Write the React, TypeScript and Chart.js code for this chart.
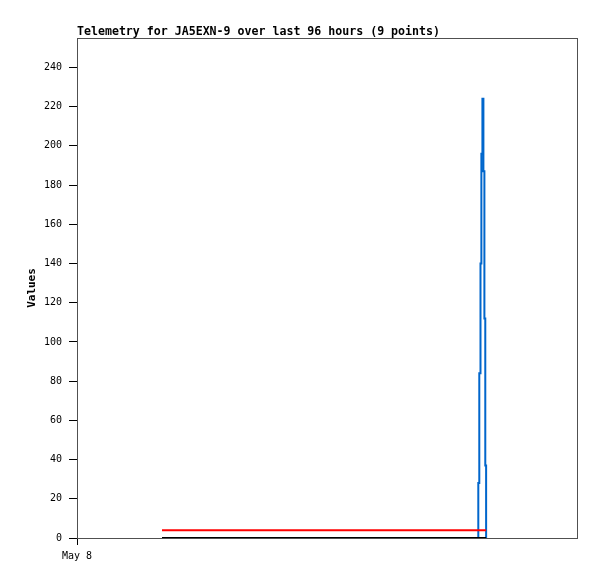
import React, { useEffect, useRef } from "react";
import { Chart, registerables } from "chart.js";

Chart.register(...registerables);

// Time of each sample, in hours since the start of the 96-hour window (May 8 00:00)
const hours = [16.32, 77.05, 77.24, 77.47, 77.64, 77.84, 78.03, 78.22, 78.39, 78.55];
const blueValues = [0, 28, 84, 140, 196, 224, 187, 112, 37, 0];
const redValues = [4, 4, 4, 4, 4, 4, 4, 4, 4, 4];
const blackValues = [0, 0, 0, 0, 0, 0, 0, 0, 0, 0];
const xTickValues = [0];
const xTickLabels = ["May 8"];
const yTickStep = 20;
const yMax = 255;
const xMax = 96;
const titleText = "Telemetry for JA5EXN-9 over last 96 hours (9 points)";

const MONO = "'DejaVu Sans Mono', monospace";

export default function App() {
  const ref = useRef<HTMLCanvasElement | null>(null);

  useEffect(() => {
    if (!ref.current) return;
    const pts = (vals: number[]) => hours.map((h, i) => ({ x: h, y: vals[i] }));

    const framePlugin = {
      id: "frameAndTitle",
      beforeDatasetsDraw(chart: any) {
        const { ctx, chartArea } = chart;
        ctx.save();
        ctx.strokeStyle = "#505050";
        ctx.lineWidth = 1;
        ctx.strokeRect(
          Math.round(chartArea.left) + 0.5,
          Math.round(chartArea.top) + 0.5,
          Math.round(chartArea.right - chartArea.left),
          Math.round(chartArea.bottom - chartArea.top)
        );
        ctx.restore();
      },
      afterDraw(chart: any) {
        const { ctx, chartArea } = chart;
        ctx.save();
        ctx.fillStyle = "#000";
        ctx.font = `bold 11.6px ${MONO}`;
        ctx.textBaseline = "alphabetic";
        ctx.textAlign = "left";
        ctx.fillText(titleText, chartArea.left, 35);
        ctx.restore();
      },
    };

    const chart = new Chart(ref.current, {
      type: "line",
      data: {
        datasets: [
          {
            label: "black",
            data: pts(blackValues),
            borderColor: "#000000",
            borderWidth: 2,
            pointRadius: 0,
            stepped: true,
            order: 0,
          },
          {
            label: "red",
            data: pts(redValues),
            borderColor: "#ff0000",
            borderWidth: 2,
            pointRadius: 0,
            stepped: true,
            order: 1,
          },
          {
            label: "blue",
            data: pts(blueValues),
            borderColor: "#0066cc",
            borderWidth: 2,
            pointRadius: 0,
            stepped: true,
            order: 2,
          },
        ],
      },
      options: {
        responsive: false,
        animation: false,
        events: [],
        layout: { padding: { left: 0, top: 38, right: 20, bottom: 0 } },
        plugins: {
          legend: { display: false },
          tooltip: { enabled: false },
          title: { display: false },
        },
        scales: {
          x: {
            type: "linear",
            min: 0,
            max: xMax,
            afterBuildTicks: (s: any) => {
              s.ticks = xTickValues.map((v) => ({ value: v }));
            },
            afterFit: (s: any) => {
              s.height = 41;
            },
            ticks: {
              autoSkip: false,
              maxRotation: 0,
              padding: 5,
              color: "#000",
              font: { family: MONO, size: 10 },
              callback: (v: any) => {
                const i = xTickValues.indexOf(Number(v));
                return i >= 0 ? xTickLabels[i] : "";
              },
            },
            grid: {
              display: true,
              drawOnChartArea: false,
              drawTicks: true,
              tickLength: 7,
              color: "#000",
            },
            border: { display: true, color: "#000", width: 1 },
          },
          y: {
            type: "linear",
            min: 0,
            max: yMax,
            afterBuildTicks: (s: any) => {
              s.ticks = s.ticks.filter((t: any) => t.value % yTickStep === 0);
            },
            afterFit: (s: any) => {
              s.width = 77;
            },
            ticks: {
              stepSize: yTickStep,
              padding: 7,
              color: "#000",
              font: { family: MONO, size: 10 },
            },
            grid: {
              display: true,
              drawOnChartArea: false,
              drawTicks: true,
              tickLength: 8,
              color: "#000",
            },
            border: { display: true, color: "#000", width: 1 },
            title: {
              display: true,
              text: "Values",
              color: "#000",
              font: { family: MONO, size: 11, weight: "bold" },
              padding: { top: 26, bottom: 0 },
            },
          },
        },
      },
      plugins: [framePlugin],
    });

    return () => chart.destroy();
  }, []);

  return (
    <div style={{ position: "absolute", left: 0, top: 0, width: 597, height: 579, background: "#fff" }}>
      <canvas ref={ref} width={597} height={579} style={{ display: "block", width: 597, height: 579 }} />
    </div>
  );
}
